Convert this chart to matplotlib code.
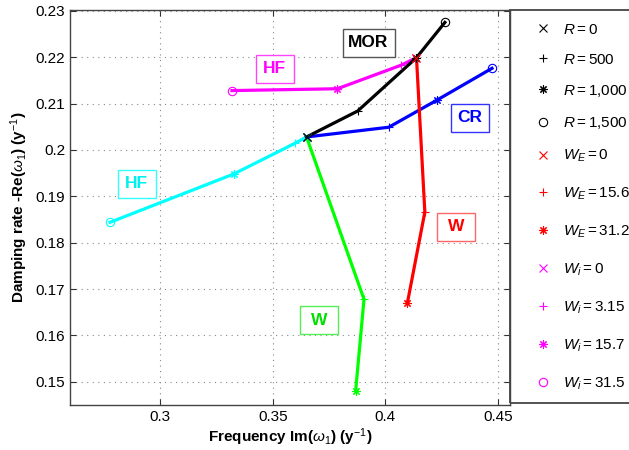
import matplotlib
matplotlib.use("Agg")
import matplotlib.pyplot as plt
from matplotlib.patches import Rectangle

plt.rcParams['font.family'] = ['Liberation Sans', 'DejaVu Sans']
plt.rcParams['mathtext.fontset'] = 'custom'
plt.rcParams['mathtext.rm'] = 'Liberation Sans'
plt.rcParams['mathtext.it'] = 'Liberation Sans:italic'
plt.rcParams['mathtext.bf'] = 'Liberation Sans:bold'

# frequency Im(w1) and damping rate -Re(w1) along each path
mor_freq = [0.365, 0.3877, 0.4138, 0.4264]
mor_damp = [0.2028, 0.2084, 0.2199, 0.2275]
cr_freq = [0.365, 0.4015, 0.4227, 0.4473]
cr_damp = [0.2028, 0.2049, 0.2107, 0.2176]
hf_top_freq = [0.4138, 0.4071, 0.3787, 0.3319]
hf_top_damp = [0.2199, 0.2183, 0.2132, 0.2128]
w_red_freq = [0.4138, 0.4175, 0.4098]
w_red_damp = [0.2199, 0.1866, 0.1671]
hf_low_freq = [0.365, 0.3597, 0.3326, 0.2778]
hf_low_damp = [0.2028, 0.2014, 0.1948, 0.1844]
w_green_freq = [0.365, 0.3905, 0.3868]
w_green_damp = [0.2028, 0.1678, 0.1481]

STAR = (8, 2, 0)  # matlab style asterisk
markers4 = ['x', '+', STAR, 'o']
markers3 = ['x', '+', STAR]

# label text, x, y, text colour, box edge colour
boxes = [
    ('MOR', 0.3925, 0.2231, 'black', '#555555'),
    ('HF', 0.3508, 0.2175, '#ff00ff', '#ff44ff'),
    ('CR', 0.4375, 0.2069, 'blue', '#3333ff'),
    ('HF', 0.2897, 0.1927, '#00f0f0', '#33ffff'),
    ('W', 0.3706, 0.1633, '#00e000', '#55ee55'),
    ('W', 0.4315, 0.1834, 'red', '#ff6666'),
]

legend_r = [r'$R{=}0$', r'$R{=}500$', r'$R{=}1{,}000$', r'$R{=}1{,}500$']
legend_we = [r'$W_E{=}0$', r'$W_E{=}15.6$', r'$W_E{=}31.2$']
legend_wi = [r'$W_i{=}0$', r'$W_i{=}3.15$', r'$W_i{=}15.7$', r'$W_i{=}31.5$']

fig = plt.figure(figsize=(6.29, 4.5), dpi=100)
ax = fig.add_axes([0.1113, 0.1, 0.6995, 0.878])

def path(fx, dy, color, marks):
    ax.plot(fx, dy, color=color, lw=2.3, zorder=2)
    for x, y, m in zip(fx, dy, marks):
        ax.plot(x, y, marker=m, color=color, ms=6, mew=0.8,
                mfc='none', ls='none', zorder=3)

path(hf_low_freq, hf_low_damp, '#00ffff', markers4)
path(w_green_freq, w_green_damp, '#00ff00', markers3)
path(cr_freq, cr_damp, 'blue', markers4)
path(hf_top_freq, hf_top_damp, '#ff00ff', markers4)
path(mor_freq, mor_damp, 'black', markers4)
path(w_red_freq, w_red_damp, 'red', markers3)

ax.set_xlim(0.26, 0.4553)
ax.set_ylim(0.145, 0.2302)

# fixed pixel size boxes like matlab annotations
px_x = (0.4553 - 0.26) / 440.0
px_y = (0.2302 - 0.145) / 395.0
for txt, x, y, c, ec in boxes:
    w = 52 if len(txt) == 3 else 38
    h = 28
    ax.add_patch(Rectangle((x - w / 2 * px_x, y - h / 2 * px_y), w * px_x, h * px_y,
                           fc='white', ec=ec, lw=1.0, zorder=4))
    ax.text(x, y, txt, color=c, fontsize=12.5, fontweight='bold',
            ha='center', va='center', zorder=5)

ax.set_xticks([0.3, 0.35, 0.4, 0.45])
ax.set_xticklabels(['0.3', '0.35', '0.4', '0.45'])
ax.set_yticks([0.15, 0.16, 0.17, 0.18, 0.19, 0.2, 0.21, 0.22, 0.23])
ax.set_yticklabels(['0.15', '0.16', '0.17', '0.18', '0.19', '0.2', '0.21', '0.22', '0.23'])
ax.tick_params(direction='in', top=True, right=True, labelsize=11, length=4,
               color='#333333')
ax.grid(True, ls=(0, (1, 4)), color='#888888', lw=0.8)
for s in ax.spines.values():
    s.set_color('#444444')
    s.set_linewidth(1.0)

ax.set_xlabel(r'Frequency Im($\omega_1$) (y$^{-1}$)', fontsize=11, fontweight='bold', labelpad=2)
ax.set_ylabel(r'Damping rate -Re($\omega_1$) (y$^{-1}$)', fontsize=11, fontweight='bold', labelpad=4)

def handle(m, c, lab):
    return plt.Line2D([], [], marker=m, color=c, ls='none', ms=6, mew=0.8, mfc='none', label=lab)

h_r = [handle(m, 'black', lab) for lab, m in zip(legend_r, markers4)]
h_w = [handle(m, 'red', lab) for lab, m in zip(legend_we, markers3)]
h_w += [handle(m, '#ff00ff', lab) for lab, m in zip(legend_wi, markers4)]

fig.legend(handles=h_r, loc='upper left', bbox_to_anchor=(0.842, 0.963),
           frameon=False, fontsize=11, handlelength=1.0, handletextpad=0.8,
           labelspacing=1.05, borderaxespad=0)
fig.legend(handles=h_w, loc='upper left', bbox_to_anchor=(0.842, 0.685),
           frameon=False, fontsize=11, handlelength=1.0, handletextpad=0.8,
           labelspacing=1.41, borderaxespad=0)
fig.patches.append(Rectangle((0.8108, 0.1044), 0.3, 0.8733, transform=fig.transFigure,
                             fill=False, ec='#444444', lw=1.3))

fig.savefig('out.png', dpi=100)
